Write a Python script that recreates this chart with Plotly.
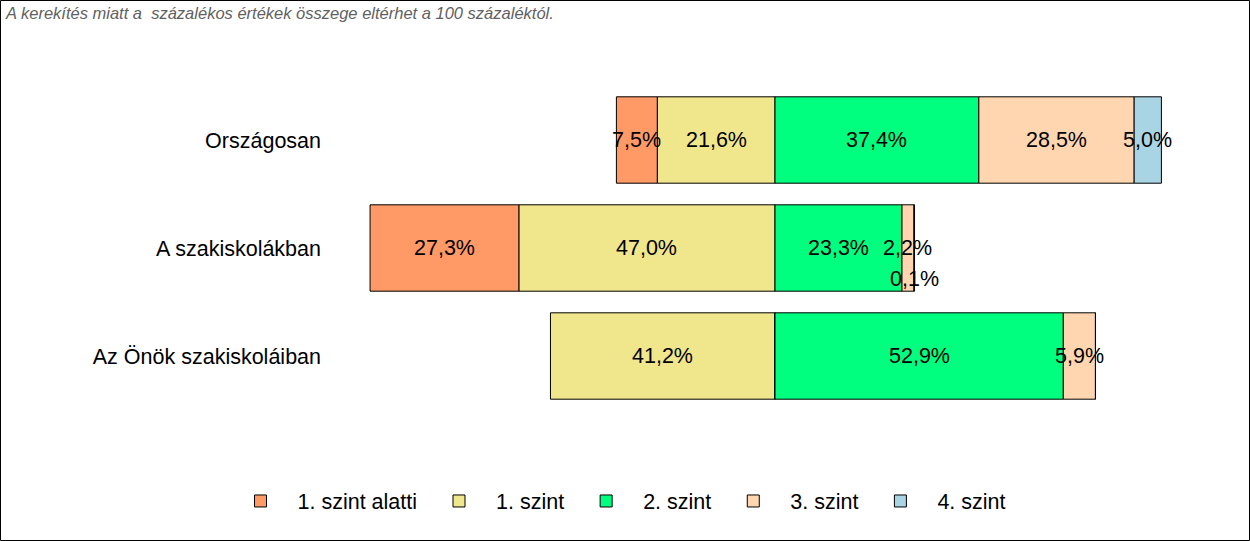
import plotly.graph_objects as go

categories = ["Országosan", "A szakiskolákban", "Az Önök szakiskoláiban"]
levels = ["1. szint alatti", "1. szint", "2. szint", "3. szint", "4. szint"]
below1 = [7.5, 27.3, 0.0]
level1 = [21.6, 47.0, 41.2]
level2 = [37.4, 23.3, 52.9]
level3 = [28.5, 2.2, 5.9]
level4 = [5.0, 0.1, 0.0]
note = "A kerekítés miatt a  százalékos értékek összege eltérhet a 100 százaléktól."

colors = {
    "1. szint alatti": "#FF9966",
    "1. szint": "#F0E68C",
    "2. szint": "#00FF7F",
    "3. szint": "#FFD6B0",
    "4. szint": "#A9D4E4",
}

W, H = 1250, 541
ml, mr, mt, mb = 340, 10, 86, 131
pw, ph = W - ml - mr, H - mt - mb
FS = 21.5
FONT = "Liberation Sans"

fig = go.Figure()

# stacking order for relative mode: negatives stack outward in trace order
series = [
    ("1. szint", [-v for v in level1], 2),
    ("1. szint alatti", [-v for v in below1], 1),
    ("2. szint", level2, 3),
    ("3. szint", level3, 4),
    ("4. szint", level4, 5),
]
for name, vals, rank in series:
    fig.add_trace(go.Bar(
        name=name, y=categories, x=vals, orientation="h",
        marker=dict(color=colors[name], line=dict(color="black", width=1)),
        width=0.8, legendrank=rank, hoverinfo="skip",
    ))

def fmt(v):
    return f"{v:.1f}".replace(".", ",") + "%"

annotations = []
for i, cat in enumerate(categories):
    start = -(below1[i] + level1[i])
    for v in [below1[i], level1[i]]:
        if v > 0:
            annotations.append(dict(x=start + v / 2, y=cat, text=fmt(v), showarrow=False,
                                    font=dict(size=FS, color="black", family=FONT)))
        start += v
    start = 0.0
    for k, v in enumerate([level2[i], level3[i], level4[i]]):
        if v > 0:
            shift = -31 if (v < 1 and k == 2) else 0
            annotations.append(dict(x=start + v / 2, y=cat, text=fmt(v), showarrow=False, yshift=shift,
                                    font=dict(size=FS, color="black", family=FONT)))
        start += v

annotations.append(dict(xref="paper", yref="paper", x=(3 - ml) / pw, y=(H - mb - 2) / ph,
                        text=note, showarrow=False, xanchor="left", yanchor="top",
                        font=dict(size=16.5, color="#5f5f5f", family=FONT, style="italic")))

px_per = 5.45
x0 = (ml - 775) / px_per
x1 = x0 + pw / px_per

fig.update_layout(
    width=W, height=H,
    margin=dict(l=ml, r=mr, t=mt, b=mb, autoexpand=False),
    barmode="relative",
    plot_bgcolor="white", paper_bgcolor="white",
    font=dict(family=FONT, size=FS, color="black"),
    xaxis=dict(range=[x0, x1], visible=False, fixedrange=True),
    yaxis=dict(autorange="reversed", showgrid=False, zeroline=False, showline=False,
               ticks="", ticklabelstandoff=18, tickfont=dict(size=FS, color="black"), fixedrange=True),
    legend=dict(orientation="h", xref="container", yref="container", x=0.494, xanchor="center",
                y=1 - 501 / H, yanchor="middle", font=dict(size=FS), traceorder="normal",
                itemwidth=64),
    annotations=annotations,
    shapes=[dict(type="rect", xref="paper", yref="paper",
                 x0=(0.5 - ml) / pw, x1=(W - 0.5 - ml) / pw,
                 y0=(0.5 - mb) / ph, y1=(H - 0.5 - mb) / ph,
                 line=dict(color="black", width=1), fillcolor="rgba(0,0,0,0)", layer="above")],
    showlegend=True,
)

fig.write_html("out.html")
